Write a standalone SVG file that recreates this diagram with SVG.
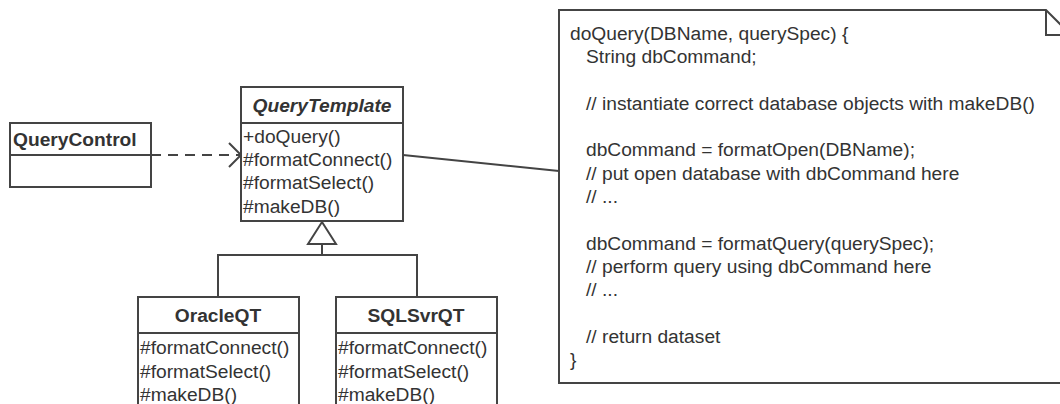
<svg xmlns="http://www.w3.org/2000/svg" width="1060" height="404" viewBox="0 0 1060 404">
<defs>
<style>
.box{fill:#fff;stroke:#444;stroke-width:2}
.ln{fill:none;stroke:#444;stroke-width:2}
.t{font-family:"Liberation Sans",Arial,sans-serif;font-size:19.2px;fill:#333}
.b{font-weight:bold}
.i{font-style:italic}
.m{text-anchor:middle}
.n{font-family:"Liberation Sans",Arial,sans-serif;font-size:19.2px;fill:#333}
</style>
</defs>
<rect width="1060" height="404" fill="#fff"/>
<g id="connectors">
<line class="ln" x1="151" y1="155" x2="240" y2="155" stroke-dasharray="10 7"/>
<polyline class="ln" points="229,143 241,155 229,167"/>
<line class="ln" x1="403" y1="155" x2="559" y2="171"/>
<polygon class="ln" points="322,222 336,244 308,244"/>
<polyline class="ln" points="322,244 322,255"/>
<polyline class="ln" points="218,297 218,255 417,255 417,297"/>
</g>
<g id="QueryControl">
<rect class="box" x="10" y="123" width="141" height="64"/>
<line class="ln" x1="10" y1="155" x2="151" y2="155"/>
<text class="t b" x="13" y="146">QueryControl</text>
</g>
<g id="QueryTemplate">
<rect class="box" x="241" y="87" width="162" height="134"/>
<line class="ln" x1="241" y1="123" x2="403" y2="123"/>
<text class="t b i m" x="322" y="112">QueryTemplate</text>
<text class="t" x="243" y="143">+doQuery()</text>
<text class="t" x="243" y="166">#formatConnect()</text>
<text class="t" x="243" y="189">#formatSelect()</text>
<text class="t" x="243" y="213">#makeDB()</text>
</g>
<g id="OracleQT">
<rect class="box" x="138" y="297" width="161" height="120"/>
<line class="ln" x1="138" y1="333" x2="299" y2="333"/>
<text class="t b m" x="218" y="322">OracleQT</text>
<text class="t" x="140" y="354">#formatConnect()</text>
<text class="t" x="140" y="378">#formatSelect()</text>
<text class="t" x="140" y="401">#makeDB()</text>
</g>
<g id="SQLSvrQT">
<rect class="box" x="336" y="297" width="161" height="120"/>
<line class="ln" x1="336" y1="333" x2="497" y2="333"/>
<text class="t b m" x="416" y="322">SQLSvrQT</text>
<text class="t" x="338" y="354">#formatConnect()</text>
<text class="t" x="338" y="378">#formatSelect()</text>
<text class="t" x="338" y="401">#makeDB()</text>
</g>
<g id="note">
<polygon class="box" points="559,10 1046,10 1071,35 1071,383 559,383"/>
<polyline class="ln" points="1046,10 1046,35 1071,35"/>
<text class="n" x="570" y="40">doQuery(DBName, querySpec) {</text>
<text class="n" x="586" y="63">String dbCommand;</text>
<text class="n" x="586" y="110">// instantiate correct database objects with makeDB()</text>
<text class="n" x="586" y="156">dbCommand = formatOpen(DBName);</text>
<text class="n" x="586" y="180">// put open database with dbCommand here</text>
<text class="n" x="586" y="203">// ...</text>
<text class="n" x="586" y="250">dbCommand = formatQuery(querySpec);</text>
<text class="n" x="586" y="273">// perform query using dbCommand here</text>
<text class="n" x="586" y="296">// ...</text>
<text class="n" x="586" y="343">// return dataset</text>
<text class="n" x="570" y="366">}</text>
</g>
</svg>
